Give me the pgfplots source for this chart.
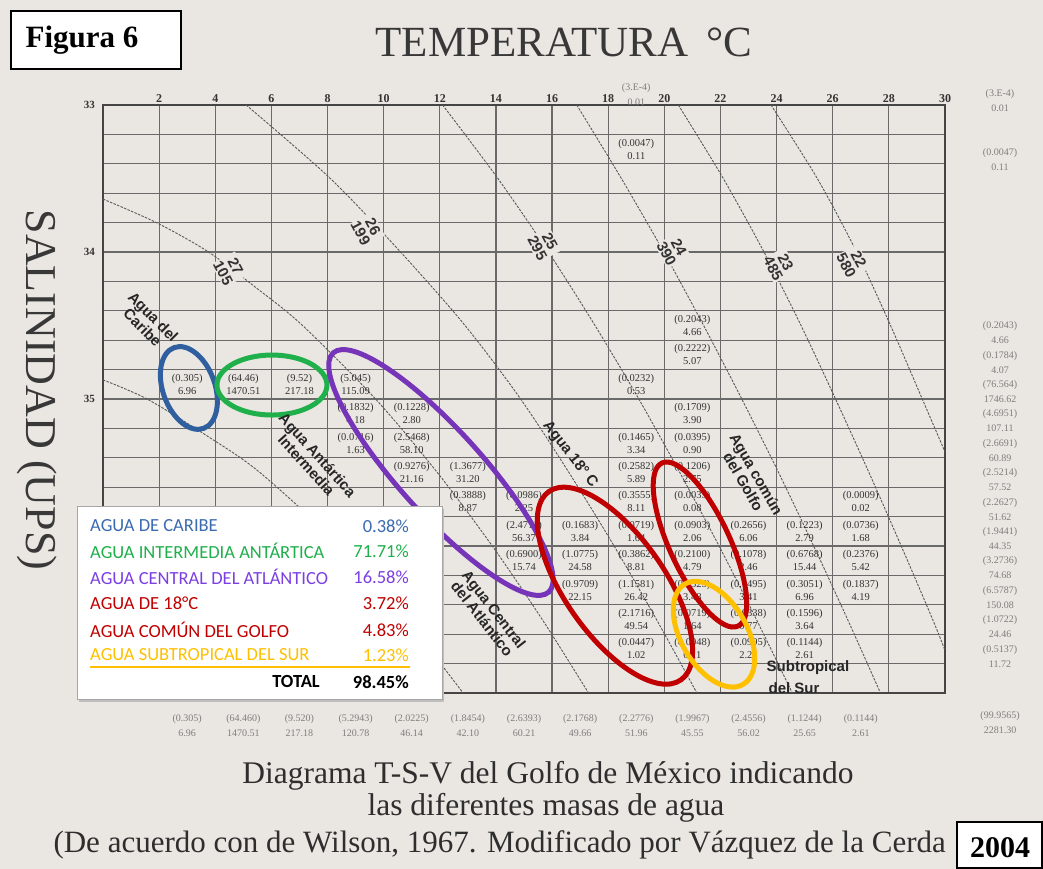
\documentclass[border=0pt]{standalone}
\usepackage{pgfplots}
\pgfplotsset{compat=1.18}
\usepackage{fontspec}
\setmainfont{Liberation Serif}
\setsansfont{Liberation Sans}
\newfontfamily\carlito{Carlito}
\usetikzlibrary{shapes.geometric}

\definecolor{paper}{HTML}{EAE7E2}
\definecolor{gridc}{HTML}{6A6A6A}
\definecolor{framec}{HTML}{454545}
\definecolor{cblue}{HTML}{2F5F9E}
\definecolor{cgreen}{HTML}{1FB04B}
\definecolor{cpurple}{HTML}{7635B8}
\definecolor{cred}{HTML}{C00000}
\definecolor{cyellow}{HTML}{FFC000}
\definecolor{lblue}{HTML}{3B6BB0}
\definecolor{lpurple}{HTML}{7B3FE4}
\definecolor{numc}{HTML}{333333}
\definecolor{faint}{HTML}{7E7E7E}

\tikzset{
  cellnode/.style={font=\fontsize{10.5}{13}\selectfont, text=numc, align=center, inner sep=0pt},
  sidenode/.style={font=\fontsize{10}{15}\selectfont, text=faint, align=center, inner sep=0pt},
  isolab/.style={font=\sffamily\bfseries\fontsize{15}{14}\selectfont, text=black!80, fill=paper, inner sep=1pt, align=center, rotate=-62},
  water/.style={font=\sffamily\bfseries\fontsize{15}{15}\selectfont, text=black!85, align=center},
  ring/.style={draw, ellipse, line width=5pt, inner sep=0pt},
}
\pgfplotsset{iso/.style={black!65, line width=0.9pt, dash pattern=on 2.5pt off 1.3pt, smooth, tension=0.5}}

% one T-S class: percentage of total volume and volume
\newcommand{\cell}[4]{\node[cellnode] at (axis cs:#1,#2) {#3\\#4};}
\newcommand{\side}[4]{\node[sidenode] at (axis cs:#1,#2) {#3\\#4};}

\begin{document}
\begin{tikzpicture}[x=1pt,y=1pt]
\fill[paper] (0,0) rectangle (1043,869);
\useasboundingbox (0,0) rectangle (1043,869);

\begin{axis}[
  at={(103pt,176pt)}, anchor=south west,
  scale only axis, width=842pt, height=588pt,
  xmin=0, xmax=30, ymin=33, ymax=37, y dir=reverse,
  clip=false,
  xtick={0,2,...,30},
  xticklabels={,2,4,6,8,10,12,14,16,18,20,22,24,26,28,30},
  xticklabel pos=upper,
  ytick={33,33.2,33.4,33.6,33.8,34,34.2,34.4,34.6,34.8,35,35.2,35.4,35.6,35.8,36,36.2,36.4,36.6,36.8,37},
  yticklabels={33,,,,,34,,,,,35,,,,,,,,,,},
  major tick length=0pt,
  grid=major,
  major grid style={gridc, line width=1.2pt},
  axis line style={framec, line width=2pt},
  xticklabel style={font=\bfseries\fontsize{12}{12}\selectfont, text=black!80, inner sep=2pt},
  yticklabel style={font=\bfseries\fontsize{11}{11}\selectfont, text=black!80, inner sep=2pt, xshift=-6pt},
]
% isopicnas sigma-t (28 ... 22)
\addplot[iso] coordinates {(0,34.87) (1.57,35) (3.7,35.25) (5.59,35.5) (8.45,36) (10.79,36.5) (12.83,37)};
\addplot[iso] coordinates {(0,33.64) (1.9,33.8) (3.76,34) (5.5,34.25) (7.11,34.5) (9.71,35) (11.91,35.5) (13.87,36) (15.65,36.5) (17.30,37)};
\addplot[iso] coordinates {(5.1,33) (8.1,33.5) (10.6,34) (12.9,34.5) (14.88,35) (16.60,35.5) (18.21,36) (19.72,36.5) (21.16,37)};
\addplot[iso] coordinates {(12.1,33) (14.07,33.5) (15.87,34) (17.53,34.5) (19.09,35) (20.55,35.5) (21.95,36) (23.28,36.5) (24.56,37)};
\addplot[iso] coordinates {(16.88,33) (18.47,33.5) (19.98,34) (21.40,34.5) (22.76,35) (24.07,35.5) (25.32,36) (26.53,36.5) (27.70,37)};
\addplot[iso] coordinates {(20.5,33) (22.1,33.5) (23.55,34) (24.87,34.5) (26.10,35) (27.29,35.5) (28.44,36) (29.56,36.5) (30,36.71)};
\addplot[iso] coordinates {(23.8,33) (25.45,33.5) (26.85,34) (28.06,34.5) (29.19,35) (30,35.36)};

\node[isolab] at (axis cs:4.5,34.12) {27\\105};
\node[isolab] at (axis cs:9.4,33.85) {26\\199};
\node[isolab] at (axis cs:15.7,33.95) {25\\295};
\node[isolab] at (axis cs:20.3,33.99) {24\\390};
\node[isolab] at (axis cs:24.1,34.09) {23\\485};
\node[isolab] at (axis cs:26.7,34.07) {22\\580};

% clases T-S: (% del volumen) y volumen
\cell{19}{33.3}{(0.0047)}{0.11}
\cell{21}{34.5}{(0.2043)}{4.66}
\cell{21}{34.7}{(0.2222)}{5.07}
\cell{3}{34.9}{(0.305)}{6.96}
\cell{5}{34.9}{(64.46)}{1470.51}
\cell{7}{34.9}{(9.52)}{217.18}
\cell{9}{34.9}{(5.045)}{115.09}
\cell{19}{34.9}{(0.0232)}{0.53}
\cell{9}{35.1}{(0.1832)}{4.18}
\cell{11}{35.1}{(0.1228)}{2.80}
\cell{21}{35.1}{(0.1709)}{3.90}
\cell{9}{35.3}{(0.0716)}{1.63}
\cell{11}{35.3}{(2.5468)}{58.10}
\cell{19}{35.3}{(0.1465)}{3.34}
\cell{21}{35.3}{(0.0395)}{0.90}
\cell{11}{35.5}{(0.9276)}{21.16}
\cell{13}{35.5}{(1.3677)}{31.20}
\cell{19}{35.5}{(0.2582)}{5.89}
\cell{21}{35.5}{(0.1206)}{2.75}
\cell{13}{35.7}{(0.3888)}{8.87}
\cell{15}{35.7}{(0.0986)}{2.25}
\cell{19}{35.7}{(0.3555)}{8.11}
\cell{21}{35.7}{(0.0035)}{0.08}
\cell{27}{35.7}{(0.0009)}{0.02}
\cell{15}{35.9}{(2.4711)}{56.37}
\cell{17}{35.9}{(0.1683)}{3.84}
\cell{19}{35.9}{(0.0719)}{1.64}
\cell{21}{35.9}{(0.0903)}{2.06}
\cell{23}{35.9}{(0.2656)}{6.06}
\cell{25}{35.9}{(0.1223)}{2.79}
\cell{27}{35.9}{(0.0736)}{1.68}
\cell{15}{36.1}{(0.6900)}{15.74}
\cell{17}{36.1}{(1.0775)}{24.58}
\cell{19}{36.1}{(0.3862)}{8.81}
\cell{21}{36.1}{(0.2100)}{4.79}
\cell{23}{36.1}{(0.1078)}{2.46}
\cell{25}{36.1}{(0.6768)}{15.44}
\cell{27}{36.1}{(0.2376)}{5.42}
\cell{17}{36.3}{(0.9709)}{22.15}
\cell{19}{36.3}{(1.1581)}{26.42}
\cell{21}{36.3}{(0.1525)}{3.48}
\cell{23}{36.3}{(0.1495)}{3.41}
\cell{25}{36.3}{(0.3051)}{6.96}
\cell{27}{36.3}{(0.1837)}{4.19}
\cell{19}{36.5}{(2.1716)}{49.54}
\cell{21}{36.5}{(0.0719)}{1.64}
\cell{23}{36.5}{(0.0338)}{0.77}
\cell{25}{36.5}{(0.1596)}{3.64}
\cell{19}{36.7}{(0.0447)}{1.02}
\cell{21}{36.7}{(0.0048)}{0.11}
\cell{23}{36.7}{(0.0995)}{2.27}
\cell{25}{36.7}{(0.1144)}{2.61}

% totales por columna de temperatura
\side{3}{37.22}{(0.305)}{6.96}
\side{5}{37.22}{(64.460)}{1470.51}
\side{7}{37.22}{(9.520)}{217.18}
\side{9}{37.22}{(5.2943)}{120.78}
\side{11}{37.22}{(2.0225)}{46.14}
\side{13}{37.22}{(1.8454)}{42.10}
\side{15}{37.22}{(2.6393)}{60.21}
\side{17}{37.22}{(2.1768)}{49.66}
\side{19}{37.22}{(2.2776)}{51.96}
\side{21}{37.22}{(1.9967)}{45.55}
\side{23}{37.22}{(2.4556)}{56.02}
\side{25}{37.22}{(1.1244)}{25.65}
\side{27}{37.22}{(0.1144)}{2.61}
\side{31.96}{37.2}{(99.9565)}{2281.30}
% totales por renglon de salinidad
\side{19}{32.93}{(3.E-4)}{0.01}
\side{31.96}{32.97}{(3.E-4)}{0.01}
\side{31.96}{33.37}{(0.0047)}{0.11}
\side{31.96}{34.55}{(0.2043)}{4.66}
\side{31.96}{34.75}{(0.1784)}{4.07}
\side{31.96}{34.95}{(76.564)}{1746.62}
\side{31.96}{35.15}{(4.6951)}{107.11}
\side{31.96}{35.35}{(2.6691)}{60.89}
\side{31.96}{35.55}{(2.5214)}{57.52}
\side{31.96}{35.75}{(2.2627)}{51.62}
\side{31.96}{35.95}{(1.9441)}{44.35}
\side{31.96}{36.15}{(3.2736)}{74.68}
\side{31.96}{36.35}{(6.5787)}{150.08}
\side{31.96}{36.55}{(1.0722)}{24.46}
\side{31.96}{36.75}{(0.5137)}{11.72}

% masas de agua
\node[ring, cblue, minimum width=52pt, minimum height=86pt, rotate=20] at (axis cs:3.06,34.925) {};
\node[ring, cgreen, minimum width=110pt, minimum height=60pt] at (axis cs:6.02,34.905) {};
\node[ring, cpurple, minimum width=322pt, minimum height=84pt, rotate=-48] at (axis cs:12.04,35.50) {};
\node[ring, cred, minimum width=230pt, minimum height=100pt, rotate=-55] at (axis cs:18.24,36.27) {};
\node[ring, cred, minimum width=180pt, minimum height=60pt, rotate=-65] at (axis cs:21.27,35.99) {};
\node[ring, cyellow, minimum width=116pt, minimum height=66pt, rotate=-60] at (axis cs:21.77,36.60) {};

\node[water, rotate=-45] at (axis cs:1.60,34.476) {Agua del\\Caribe};
\node[water, rotate=-48] at (axis cs:7.45,35.415) {Agua Antártica\\Intermedia};
\node[water, rotate=-52] at (axis cs:13.72,36.463) {Agua Central\\del Atlántico};
\node[water, rotate=-52] at (axis cs:16.64,35.381) {Agua 18° C};
\node[water, rotate=-60] at (axis cs:23.05,35.537) {Agua común\\del Golfo};
\node[water, anchor=west] at (axis cs:23.52,36.83) {Subtropical};
\node[water, anchor=west] at (axis cs:23.59,36.966) {del Sur};
\end{axis}

% titulos
\node[font=\fontsize{43}{43}\selectfont, text=black!78] at (564,827) {TEMPERATURA\hspace{18pt}°C};
\node[font=\fontsize{44}{44}\selectfont, text=black!78, rotate=-90] at (37,479) {SALINIDAD (UPS)};

% recuadros
\draw[line width=2pt, fill=white] (11,858) rectangle (181,800);
\node[font=\bfseries\fontsize{31}{31}\selectfont] at (82,829) {Figura 6};
\draw[line width=2pt, fill=white] (957,47) rectangle (1042,1);
\node[font=\bfseries\fontsize{30}{30}\selectfont] at (1000,21) {2004};

% pie
\begin{scope}[every node/.style={font=\fontsize{31.5}{32}\selectfont, text=black!82}]
\node at (548,93) {Diagrama T-S-V del Golfo de México indicando};
\node at (546,61) {las diferentes masas de agua};
\node[anchor=west, font=\fontsize{31}{32}\selectfont] at (50,24) {(De acuerdo con de Wilson, 1967. Modificado por Vázquez de la Cerda};
\end{scope}

% cuadro de porcentajes
\fill[black!25] (79,167) rectangle (444,360);
\draw[gray!70, line width=1pt, fill=white] (77,362) rectangle (442,169);
\begin{scope}[every node/.style={font=\carlito\fontsize{18.5}{19}\selectfont, inner sep=0pt}]
\node[anchor=west, text=lblue] at (90,343) {AGUA DE CARIBE};
\node[anchor=east, text=lblue] at (409,343) {0.38\%};
\node[anchor=west, text=cgreen] at (90,318) {AGUA INTERMEDIA ANTÁRTICA};
\node[anchor=east, text=cgreen] at (409,318) {71.71\%};
\node[anchor=west, text=lpurple] at (90,292) {AGUA CENTRAL DEL ATLÁNTICO};
\node[anchor=east, text=lpurple] at (409,292) {16.58\%};
\node[anchor=west, text=cred] at (90,266) {AGUA DE 18°C};
\node[anchor=east, text=cred] at (409,266) {3.72\%};
\node[anchor=west, text=cred] at (90,239) {AGUA COMÚN DEL GOLFO};
\node[anchor=east, text=cred] at (409,239) {4.83\%};
\node[anchor=west, text=cyellow] at (90,214) {AGUA SUBTROPICAL DEL SUR};
\node[anchor=east, text=cyellow] at (409,214) {1.23\%};
\node[anchor=east, font=\carlito\bfseries\fontsize{18.5}{19}\selectfont] at (320,187) {TOTAL};
\node[anchor=east, font=\carlito\bfseries\fontsize{18.5}{19}\selectfont] at (409,187) {98.45\%};
\end{scope}
\draw[cyellow, line width=2pt] (90,202) -- (410,202);
\end{tikzpicture}
\end{document}
